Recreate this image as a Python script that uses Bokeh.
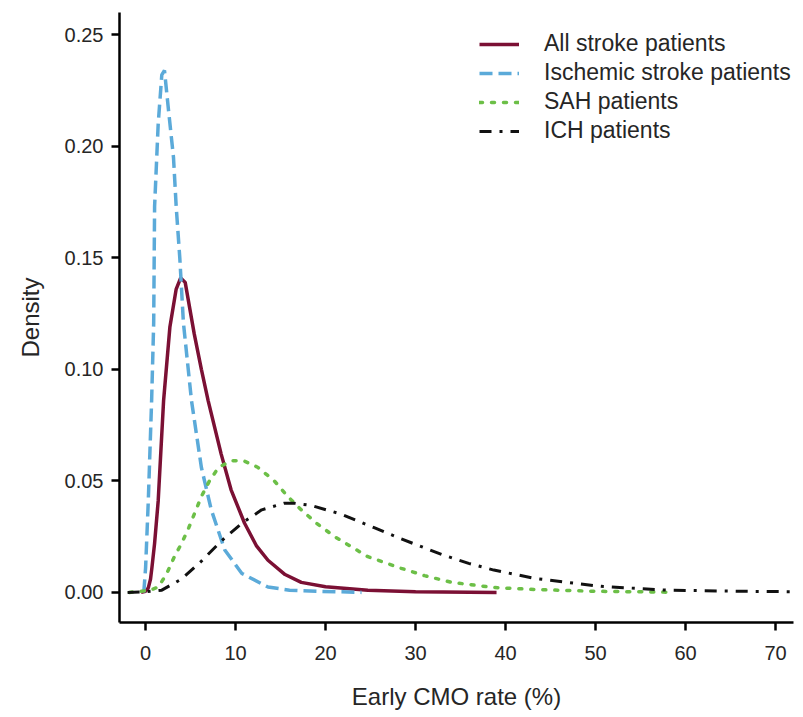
from bokeh.plotting import figure
from bokeh.models import Legend, LegendItem, Range1d, FixedTicker
from bokeh.embed import file_html
from bokeh.resources import INLINE

# ---- data ----
all_x = [-0.5, 0.0, 0.3, 0.55, 0.7, 1.0, 1.4, 2.0, 2.7, 3.4, 3.9, 4.4, 5.4, 6.2, 6.95,
         8.4, 9.5, 11.0, 12.3, 13.6, 15.5, 17.3, 20.0, 24.7, 30.0, 39.0]
all_y = [0.0, 0.0005, 0.002, 0.006, 0.011, 0.022, 0.041, 0.086, 0.119, 0.136, 0.141, 0.139,
         0.116, 0.100, 0.086, 0.062, 0.046, 0.031, 0.021, 0.0144, 0.008, 0.0045, 0.0025,
         0.001, 0.0003, 0.0]

isch_x = [-0.2, 0.0, 0.3, 0.67, 0.9, 1.0, 1.4, 1.8, 2.1, 2.5, 3.1, 3.4, 3.8, 4.2, 5.1,
          6.2, 7.3, 8.8, 10.7, 13.6, 16.0, 19.2, 24.0]
isch_y = [0.0, 0.011, 0.041, 0.086, 0.121, 0.173, 0.210, 0.232, 0.234, 0.218, 0.195, 0.173,
          0.150, 0.121, 0.086, 0.056, 0.037, 0.019, 0.0085, 0.0024, 0.001, 0.0005, 0.0]

sah_x = [-1.8, -0.5, 0.5, 1.4, 2.3, 3.2, 4.0, 4.8, 5.5, 6.2, 7.1, 8.1, 9.5, 10.9, 12.5,
         14.3, 15.8, 17.3, 19.0, 21.0, 24.7, 28.4, 31.0, 34.0, 38.7, 43.2, 50.0, 58.0]
sah_y = [0.0, 0.0005, 0.001, 0.0024, 0.008, 0.016, 0.022, 0.029, 0.036, 0.043, 0.050, 0.056,
         0.059, 0.059, 0.056, 0.050, 0.043, 0.037, 0.031, 0.025, 0.016, 0.0108, 0.0075,
         0.0045, 0.0022, 0.0013, 0.0005, 0.0001]

ich_x = [-2.0, 0.0, 1.8, 4.0, 6.2, 8.4, 10.7, 12.9, 15.4, 16.5, 18.4, 21.8, 25.4, 28.4,
         32.9, 35.9, 38.7, 43.2, 50.6, 58.0, 66.0, 72.0]
ich_y = [0.0, 0.0003, 0.001, 0.006, 0.014, 0.023, 0.031, 0.037, 0.040, 0.040, 0.039, 0.035,
         0.029, 0.024, 0.017, 0.013, 0.010, 0.0063, 0.0027, 0.001, 0.0005, 0.0003]

x_ticks = [0, 10, 20, 30, 40, 50, 60, 70]
y_ticks = [0.0, 0.05, 0.10, 0.15, 0.20, 0.25]
labels = ["All stroke patients", "Ischemic stroke patients", "SAH patients", "ICH patients"]

FONT = "Liberation Sans"
TXT = "#262626"

p = figure(width=803, height=712, output_backend="svg", toolbar_location=None,
           x_range=Range1d(-2.9, 72.0), y_range=Range1d(-0.0135, 0.260),
           min_border_left=119, min_border_right=10, min_border_top=12, min_border_bottom=90)
p.outline_line_color = None
p.grid.visible = False
p.background_fill_color = "white"

r1 = p.line(all_x, all_y, line_color="#7B1034", line_width=3.5)
r2 = p.line(isch_x, isch_y, line_color="#5BAAD9", line_width=3.5, line_dash="13 6")
r3 = p.line(sah_x, sah_y, line_color="#6CBF47", line_width=3.5, line_dash="3 9", line_cap="round")
r4 = p.line(ich_x, ich_y, line_color="#111111", line_width=3.0, line_dash="12 8 3 8")

for ax in (p.xaxis[0], p.yaxis[0]):
    ax.axis_line_color = "black"
    ax.axis_line_width = 2.5
    ax.major_tick_line_color = "black"
    ax.major_tick_line_width = 2.5
    ax.major_tick_out = 8
    ax.major_tick_in = 0
    ax.minor_tick_line_color = None
    ax.major_label_text_font = FONT
    ax.major_label_text_font_size = "20px"
    ax.major_label_text_color = TXT
    ax.axis_label_text_font = FONT
    ax.axis_label_text_font_size = "24px"
    ax.axis_label_text_font_style = "normal"
    ax.axis_label_text_color = TXT

p.xaxis.ticker = FixedTicker(ticks=x_ticks)
p.yaxis.ticker = FixedTicker(ticks=y_ticks)
p.yaxis.major_label_overrides = {v: f"{v:.2f}" for v in y_ticks}
p.xaxis.major_label_standoff = 15
p.yaxis.major_label_standoff = 8
p.xaxis.axis_label = "Early CMO rate (%)"
p.yaxis.axis_label = "Density"
p.xaxis.axis_label_standoff = 20
p.yaxis.axis_label_standoff = 18

legend = Legend(items=[LegendItem(label=labels[0], renderers=[r1]),
                       LegendItem(label=labels[1], renderers=[r2]),
                       LegendItem(label=labels[2], renderers=[r3]),
                       LegendItem(label=labels[3], renderers=[r4])],
                location=(360, 478), padding=0, margin=0, spacing=2,
                glyph_width=40, glyph_height=26, label_height=26, label_standoff=25,
                label_text_font=FONT, label_text_font_size="23px", label_text_color=TXT,
                border_line_color=None, background_fill_alpha=0)
p.add_layout(legend, "center")

open("out.html", "w").write(file_html(p, INLINE))
